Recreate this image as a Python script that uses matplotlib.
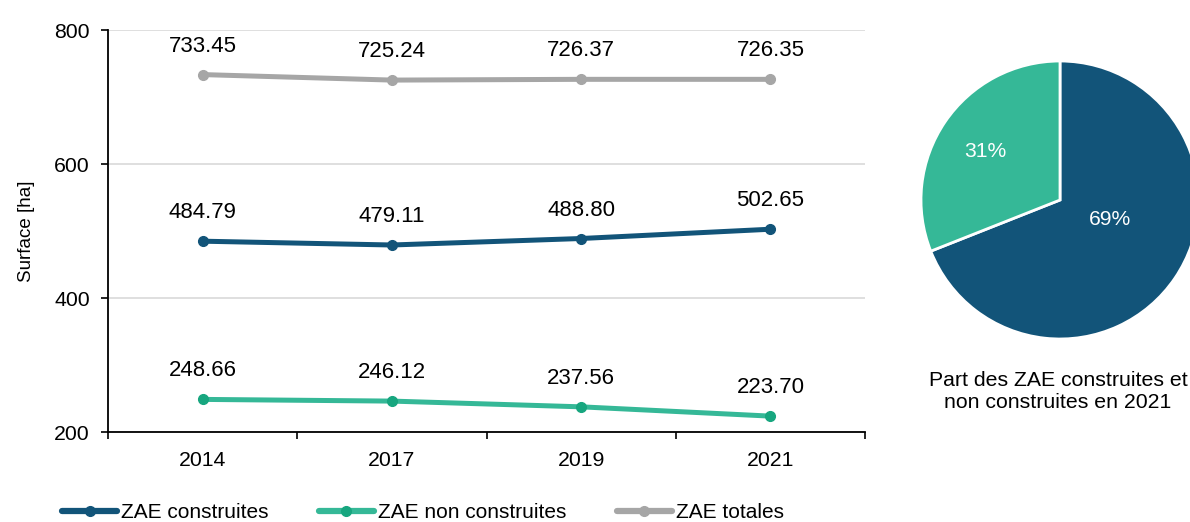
import matplotlib
matplotlib.use("Agg")
import matplotlib.pyplot as plt
import numpy as np

plt.rcParams['font.family'] = ['Liberation Sans', 'DejaVu Sans']

years = ["2014", "2017", "2019", "2021"]
construites = [484.79, 479.11, 488.80, 502.65]
non_construites = [248.66, 246.12, 237.56, 223.70]
totales = [733.45, 725.24, 726.37, 726.35]
pie_values = [69, 31]
pie_labels = ["69%", "31%"]

c_dark = '#125479'
c_green = '#35b897'
c_green_m = '#17a67f'
c_gray = '#a6a6a6'

W, H = 1190, 522
fig = plt.figure(figsize=(W / 100, H / 100), dpi=100)

# line chart axes: x 108..865, y 30..432 (pixels)
ax = fig.add_axes([108 / W, 1 - 432 / H, (865 - 108) / W, (432 - 30) / H])
x = np.arange(len(years))

series = [
    ("ZAE construites", construites, c_dark, c_dark),
    ("ZAE non construites", non_construites, c_green, c_green_m),
    ("ZAE totales", totales, c_gray, c_gray),
]
for name, vals, col, mcol in series:
    ax.plot(x, vals, color=col, lw=3.6, marker='o', ms=7,
            markerfacecolor=mcol, markeredgecolor=mcol, label=name,
            solid_capstyle='round')
    for xi, v in zip(x, vals):
        ax.annotate(f"{v:.2f}", (xi, v), xytext=(0, 20.5), textcoords='offset points',
                    ha='center', va='center', fontsize=16, color='black')

ax.set_xlim(-0.5, len(years) - 0.5)
ax.set_ylim(200, 800)
ax.set_yticks([200, 400, 600, 800])
ax.set_xticks(x)
ax.set_xticklabels(years)
ax.set_xticks(np.arange(-0.5, len(years)), minor=True)
ax.tick_params(axis='x', which='major', length=0, labelsize=15.3, pad=14)
ax.tick_params(axis='x', which='minor', length=5, width=1.2, color='black')
ax.tick_params(axis='y', length=5, width=1.2, labelsize=15.3, pad=8)
ax.yaxis.grid(True, color='#d9d9d9', lw=1.2)
ax.set_axisbelow(True)
for s in ['top', 'right']:
    ax.spines[s].set_visible(False)
ax.spines['left'].set_linewidth(1.3)
ax.spines['bottom'].set_linewidth(1.3)
ax.set_ylabel("Surface [ha]", fontsize=13.5, labelpad=14)

leg = fig.legend(loc='center', bbox_to_anchor=(423 / W, 1 - 513 / H), ncol=3,
                 frameon=False, fontsize=15, handlelength=2.65, columnspacing=2.4,
                 handletextpad=0.2)
for h in leg.legend_handles:
    h.set_linewidth(4.5)

# pie: center (1060, 200), radius 139
r = 139
pax = fig.add_axes([(1060 - r) / W, 1 - (200 + r) / H, 2 * r / W, 2 * r / H])
wedges, _ = pax.pie(pie_values, colors=[c_dark, c_green], startangle=90,
                    counterclock=False, radius=1,
                    wedgeprops=dict(edgecolor='white', linewidth=2))
pax.set_xlim(-1, 1)
pax.set_ylim(-1, 1)
pax.set_aspect('equal')
label_pos = [(0.36, -0.14), (-0.54, 0.35)]
for lab, (px, py) in zip(pie_labels, label_pos):
    pax.text(px, py, lab, color='white', fontsize=15.2, ha='center', va='center')

fig.text(1058 / W, 1 - 391 / H, "Part des ZAE construites et\nnon construites en 2021",
         ha='center', va='center', fontsize=15.3, linespacing=1.2)

fig.savefig("out.png", dpi=100)
